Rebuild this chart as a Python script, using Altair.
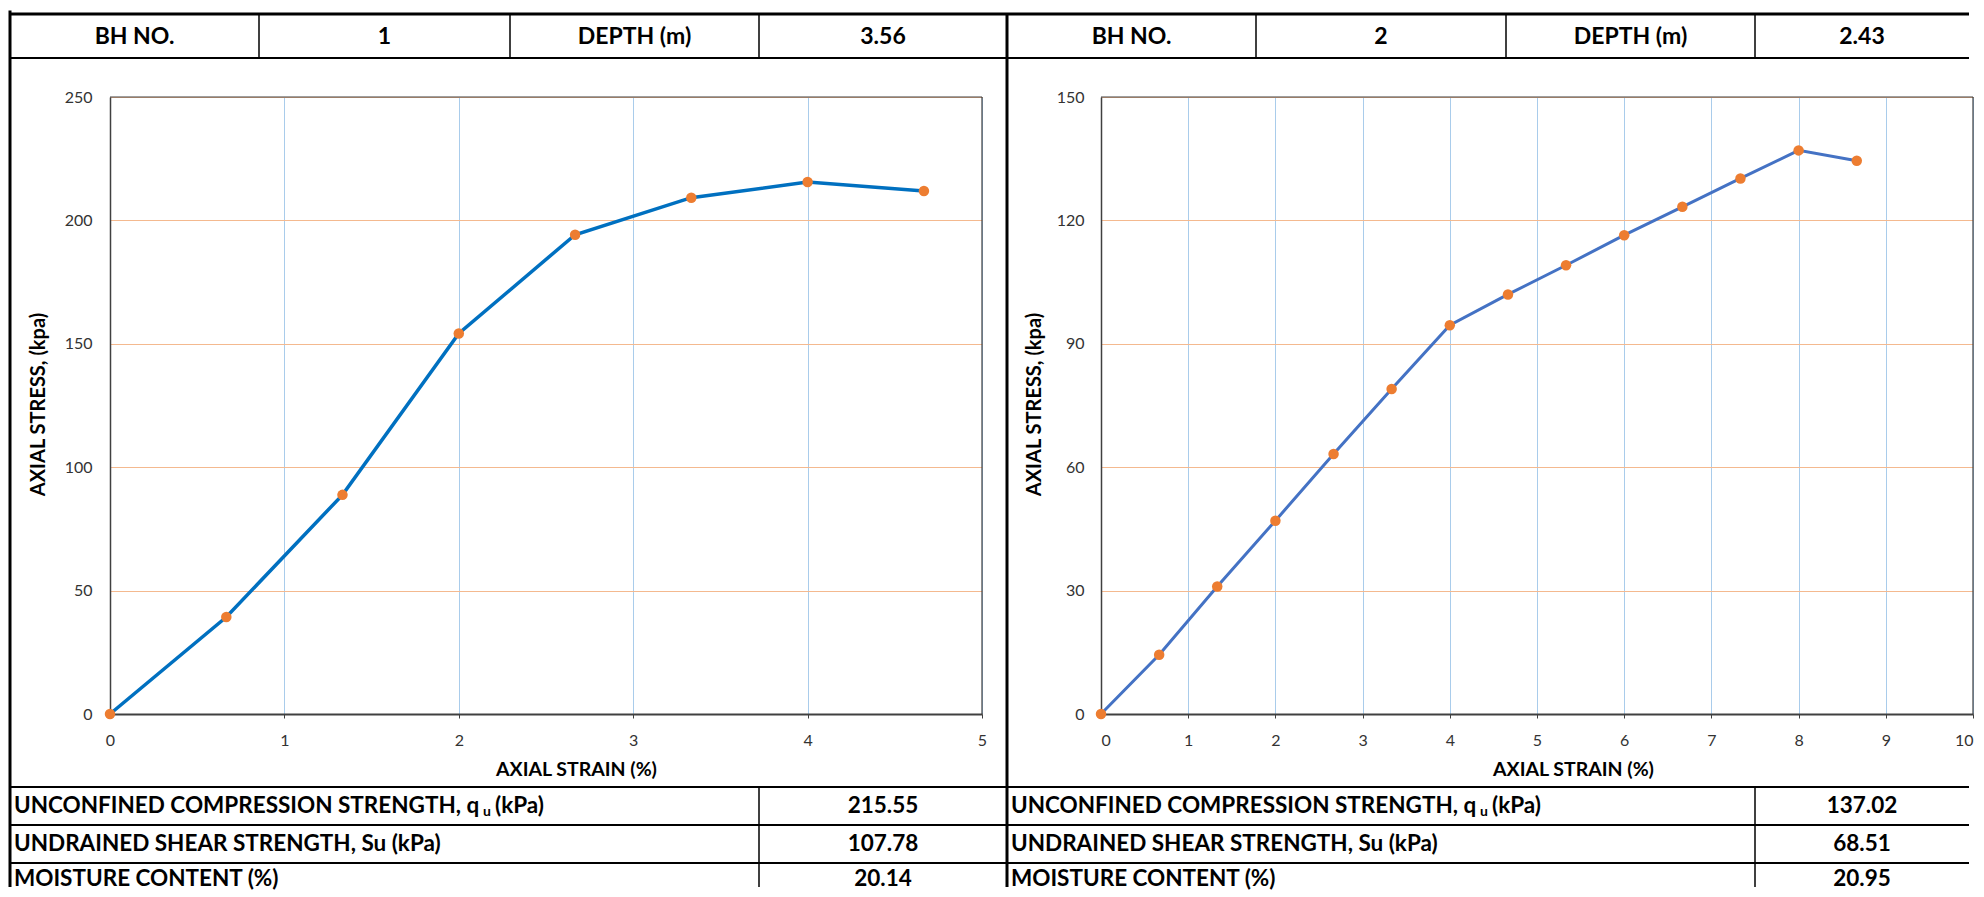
import altair as alt
import pandas as pd

# ---------------- data ----------------
strain_1 = [0, 0.667, 1.333, 2.0, 2.667, 3.333, 4.0, 4.667]
stress_1 = [0, 39.3, 88.8, 154.2, 194.2, 209.2, 215.55, 211.9]

strain_2 = [0, 0.667, 1.333, 2.0, 2.667, 3.333, 4.0, 4.667, 5.333, 6.0, 6.667, 7.333, 8.0, 8.667]
stress_2 = [0, 14.4, 31.0, 47.0, 63.2, 79.0, 94.5, 102.0, 109.1, 116.4, 123.3, 130.2, 137.02, 134.5]

bh_no = ["1", "2"]
depth_m = ["3.56", "2.43"]
qu_kpa = ["215.55", "137.02"]
su_kpa = ["107.78", "68.51"]
moisture = ["20.14", "20.95"]

x_max = [5, 10]
y_max = [250, 150]
y_step = [50, 30]

header_labels = ["BH NO.", "DEPTH (m)"]
row_labels = ["UNCONFINED COMPRESSION STRENGTH, q", "u", "(kPa)",
              "UNDRAINED SHEAR STRENGTH, Su (kPa)", "MOISTURE CONTENT (%)"]
x_title = "AXIAL STRAIN (%)"
y_title = "AXIAL STRESS, (kpa)"

# ---------------- styling ----------------
W, H = 872, 617
FONT = "Lato"
line_colors = ["#0070C0", "#4472C4"]
line_widths = [3.5, 3]
marker_color = "#ED7D31"
AXIS_DARK = "#404040"

one = alt.Data(values=[{"k": 1}])


def hline(y, x1, x2, w, color="black"):
    return alt.Chart(one).mark_rule(color=color, strokeWidth=w).encode(
        y=alt.value(y), x=alt.value(x1), x2=alt.value(x2))


def vline(x, y1, y2, w, color="black"):
    return alt.Chart(one).mark_rule(color=color, strokeWidth=w).encode(
        x=alt.value(x), y=alt.value(y1), y2=alt.value(y2))


def label(text, x, y, size, align="center"):
    return alt.Chart(one).mark_text(
        text=text, font=FONT, fontSize=size, fontWeight="bold",
        align=align, baseline="middle", color="black").encode(
        x=alt.value(x), y=alt.value(y))


def panel(i, strain, stress, cols, right_end, left_x, title_x, ytitle_x, lab_pad):
    df = pd.DataFrame({"strain": strain, "stress": stress})
    xenc = alt.X(
        "strain:Q",
        scale=alt.Scale(domain=[0, x_max[i]], nice=False, zero=True),
        axis=alt.Axis(
            values=list(range(0, x_max[i] + 1)), title=x_title, format="d",
            grid=True, gridColor="#A9CCEB", gridWidth=1,
            domainColor=AXIS_DARK, domainWidth=2,
            ticks=True, tickSize=4, tickColor=AXIS_DARK,
            labelPadding=14, labelFontSize=16, labelColor="#333333",
            labelFlush=(i == 1),
            titleFontSize=19.5, titleFontWeight="bold", titleColor="black",
            titleX=title_x, titleY=55, titleAlign="center", titleBaseline="middle",
        ),
    )
    yenc = alt.Y(
        "stress:Q",
        scale=alt.Scale(domain=[0, y_max[i]], nice=False, zero=True),
        axis=alt.Axis(
            values=list(range(0, y_max[i] + 1, y_step[i])), title=y_title, format="d",
            grid=True, gridColor="#F4B98F", gridWidth=1,
            domainColor=AXIS_DARK, domainWidth=1.5,
            ticks=False, tickSize=0,
            labelPadding=lab_pad, labelFontSize=16, labelColor="#333333",
            titleFontSize=20, titleFontWeight="bold", titleColor="black",
            titleX=ytitle_x, titleY=307, titleAngle=270,
            titleAlign="center", titleBaseline="middle",
        ),
    )
    base = alt.Chart(df)
    line = base.mark_line(color=line_colors[i], strokeWidth=line_widths[i]).encode(x=xenc, y=yenc)
    pts = base.mark_point(filled=True, color=marker_color, size=110, opacity=1).encode(
        x="strain:Q", y="stress:Q")

    c1, c2, c3 = cols
    layers = [
        # plot-area frame (top / right edges)
        hline(0, 0, W, 1.2, AXIS_DARK),
        vline(W, 0, H, 1.2, AXIS_DARK),
        line, pts,
    ]
    # header row
    layers += [
        hline(-83, left_x, right_end, 3),
        hline(-39, left_x, right_end, 2),
        vline(c1, -83, -39, 1.5),
        vline(c2, -83, -39, 1.5),
        vline(c3, -83, -39, 1.5),
        label(header_labels[0], (left_x + c1) / 2, -60, 23),
        label(bh_no[i], (c1 + c2) / 2, -60, 23),
        label(header_labels[1], (c2 + c3) / 2, -60, 23),
        label(depth_m[i], (c3 + right_end) / 2, -60, 23),
    ]
    # bottom table
    tx = left_x + 4
    fs = 22.5
    layers += [
        hline(690, left_x, right_end, 2),
        hline(728, left_x, right_end, 2),
        hline(766, left_x, right_end, 2),
        vline(c3, 690, 790, 1.5),
        label(row_labels[0], tx, 709, fs, align="left"),
        alt.Chart(one).mark_text(text=row_labels[1], font=FONT, fontSize=14, fontWeight="bold",
                                 align="left", baseline="middle", color="black").encode(
            x=alt.value(tx + 469), y=alt.value(715)),
        label(row_labels[2], tx + 481, 709, fs, align="left"),
        label(row_labels[3], tx, 747, fs, align="left"),
        label(row_labels[4], tx, 782, fs, align="left"),
        label(qu_kpa[i], (c3 + right_end) / 2, 709, fs),
        label(su_kpa[i], (c3 + right_end) / 2, 747, fs),
        label(moisture[i], (c3 + right_end) / 2, 782, fs),
    ]
    return alt.layer(*layers).properties(width=W, height=H)


left = panel(0, strain_1, stress_1, (149, 400, 649), 897, -100, 466, -72, 18)
left = alt.layer(left, vline(-100, -86.5, 790, 3), vline(897, -83, 790, 3)).properties(width=W, height=H)
right = panel(1, strain_2, stress_2, (155, 405, 654), 868, -94, 472, -67, 17)

chart = (
    alt.hconcat(left, right, spacing=119, bounds="flush")
    .properties(padding=0)
    .configure_view(stroke=AXIS_DARK, strokeWidth=1)
    .configure_axis(labelFont=FONT, titleFont=FONT)
)

chart.save("out.html", embed_options={"renderer": "svg", "actions": False})
